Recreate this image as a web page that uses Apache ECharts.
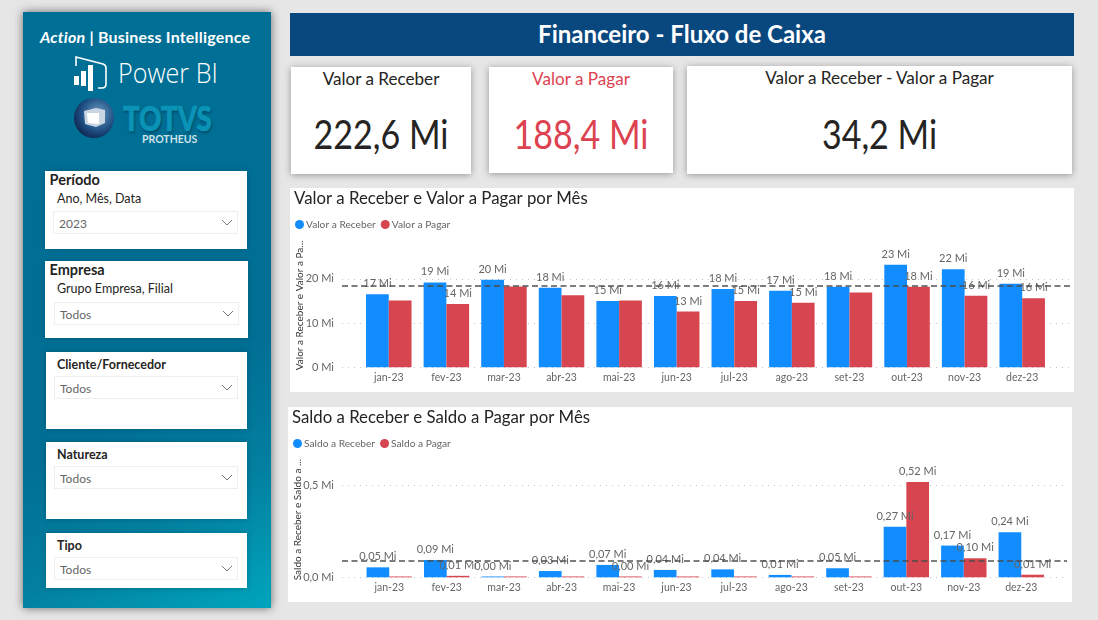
<!DOCTYPE html>
<html>
<head>
<meta charset="utf-8">
<script src="https://cdn.jsdelivr.net/npm/echarts@6/dist/echarts.min.js"></script>
<style>
html, body { margin:0; padding:0; width:1098px; height:620px; overflow:hidden; background:#e6e6e6; font-family:Lato,"Noto Sans",sans-serif; color:#252423; }
.abs { position:absolute; }
.t { position:absolute; white-space:nowrap; }
#sidebar { left:23px; top:12px; width:248px; height:596px; background:linear-gradient(152deg,#006f96 0%,#006f94 62%,#037f9f 80%,#00a5bd 100%); box-shadow:0 0 9px rgba(0,0,0,.55); }
.slicer { position:absolute; background:#fff; box-shadow:0 0 5px rgba(0,50,70,.35); }
.drop { position:absolute; border:1px solid #eee; box-sizing:border-box; height:23px; color:#666; font-size:12px; line-height:24px; padding-left:5px; }
.drop svg { position:absolute; right:4px; top:7px; }
.card { position:absolute; background:#fff; box-shadow:0 1px 7px rgba(0,0,0,.35); text-align:center; }
.card .lab { position:absolute; left:0; right:0; font-size:18px; transform:scaleX(.95); }
.card .val { position:absolute; left:0; right:0; font-size:41px; line-height:44px; transform:scaleX(.83); }
.panel { position:absolute; background:#fff; }
</style>
</head>
<body>
<div class="abs" id="sidebar"></div>
<div class="t" style="left:40px;top:27px;color:#fff;font-size:16px;font-weight:700;letter-spacing:.2px;"><i>Action</i> | Business Intelligence</div>
<svg class="abs" style="left:73px;top:54px" width="36" height="38" viewBox="0 0 36 38" fill="none">
  <path d="M3 12V3L30 10Q33 11 33 14V30Q33 34 29 34H25" stroke="#fff" stroke-width="1.6"/>
  <rect x="1" y="22" width="5" height="9" fill="#fff"/><rect x="8" y="17" width="5" height="15" fill="#fff"/><rect x="15" y="11" width="5" height="26" fill="#fff"/>
</svg>
<div class="t" style="left:118px;top:54px;color:#fff;font-size:27px;font-family:'Open Sans';font-weight:300;transform-origin:left;transform:scaleX(.93);">Power BI</div>
<svg class="abs" style="left:72px;top:96px" width="44" height="44" viewBox="0 0 44 44">
  <defs><radialGradient id="g" cx=".6" cy=".4" r=".7"><stop offset="0" stop-color="#6e9fc4"/><stop offset=".6" stop-color="#1f4f84"/><stop offset="1" stop-color="#0b1e45"/></radialGradient></defs>
  <circle cx="22" cy="22" r="20" fill="url(#g)"/>
  <path d="M12 15L24 12L33 14V27L24 31L13 28Z" fill="#c9d6e2"/><path d="M15 17L27 17V28L16 27Z" fill="#fff"/>
</svg>
<div class="t" style="left:123px;top:96px;color:#0b93b7;font-size:35px;font-weight:900;-webkit-text-stroke:.7px #0b93b7;text-shadow:1px 2px 3px rgba(0,40,60,.55);transform-origin:left;transform:scaleX(.79);">TOTVS</div>
<div class="t" style="left:142px;top:133px;color:#cfe3ea;font-size:10.5px;font-weight:700;">PROTHEUS</div>

<div class="slicer" style="left:45px;top:171px;width:202px;height:78px"></div>
<div class="t" style="left:49.5px;top:171px;font-size:14.5px;font-weight:700;">Período</div>
<div class="t" style="left:57px;top:191px;font-size:12.5px;">Ano, Mês, Data</div>
<div class="drop" style="left:53px;top:211px;width:185px;">2023<svg width="12" height="7"><path d="M1 1L6 6L11 1" stroke="#777" fill="none"/></svg></div>

<div class="slicer" style="left:45px;top:261px;width:203px;height:77px"></div>
<div class="t" style="left:49.5px;top:261px;font-size:14.5px;font-weight:700;">Empresa</div>
<div class="t" style="left:57px;top:281px;font-size:12.5px;">Grupo Empresa, Filial</div>
<div class="drop" style="left:54px;top:302px;width:185px;">Todos<svg width="12" height="7"><path d="M1 1L6 6L11 1" stroke="#777" fill="none"/></svg></div>

<div class="slicer" style="left:46px;top:352px;width:201px;height:77px"></div>
<div class="t" style="left:57px;top:357px;font-size:12.5px;font-weight:700;">Cliente/Fornecedor</div>
<div class="drop" style="left:54px;top:376px;width:184px;">Todos<svg width="12" height="7"><path d="M1 1L6 6L11 1" stroke="#777" fill="none"/></svg></div>

<div class="slicer" style="left:46px;top:442px;width:201px;height:77px"></div>
<div class="t" style="left:57px;top:447px;font-size:12.5px;font-weight:700;">Natureza</div>
<div class="drop" style="left:54px;top:466px;width:184px;">Todos<svg width="12" height="7"><path d="M1 1L6 6L11 1" stroke="#777" fill="none"/></svg></div>

<div class="slicer" style="left:46px;top:533px;width:201px;height:55px"></div>
<div class="t" style="left:57px;top:538px;font-size:12.5px;font-weight:700;">Tipo</div>
<div class="drop" style="left:54px;top:557px;width:184px;">Todos<svg width="12" height="7"><path d="M1 1L6 6L11 1" stroke="#777" fill="none"/></svg></div>

<div class="abs" style="left:290px;top:13px;width:784px;height:43px;background:#09487f;color:#fff;font-size:24px;font-weight:700;line-height:42px;text-align:center;">Financeiro - Fluxo de Caixa</div>

<div class="card" style="left:291px;top:67px;width:180px;height:107px"><div class="lab" style="top:0">Valor a Receber</div><div class="val" style="top:45px">222,6 Mi</div></div>
<div class="card" style="left:489px;top:67px;width:184px;height:106px;color:#dc4250"><div class="lab" style="top:0">Valor a Pagar</div><div class="val" style="top:45px">188,4 Mi</div></div>
<div class="card" style="left:687px;top:66px;width:385px;height:108px"><div class="lab" style="top:0">Valor a Receber - Valor a Pagar</div><div class="val" style="top:46px">34,2 Mi</div></div>

<div class="panel" id="valor" style="left:290px;top:188px;width:784px;height:204px"></div>
<div class="panel" id="saldo" style="left:288px;top:407px;width:784px;height:195px"></div>

<script>
var meses = ['jan-23','fev-23','mar-23','abr-23','mai-23','jun-23','jul-23','ago-23','set-23','out-23','nov-23','dez-23'];

var valorReceber = [16.5,19.2,19.8,18.0,15.0,16.1,17.7,17.3,18.2,23.2,22.2,18.9];
var valorPagar = [15.1,14.3,18.3,16.3,15.1,12.6,15.0,14.6,16.9,18.2,16.2,15.6];
// Power BI hides the labels that collide, these are the ones it keeps
var valorPagarRotulos = [0,1,0,0,0,1,1,1,0,1,1,1];

var saldoReceber = [0.054,0.094,0.0045,0.034,0.067,0.040,0.043,0.013,0.049,0.274,0.172,0.244];
var saldoPagar = [0.0045,0.008,0.0045,0.0045,0.0045,0.0045,0.0045,0.0045,0.0045,0.516,0.103,0.014];
var saldoPagarRotulos = [0,1,0,0,1,0,0,0,0,1,1,1];

var COR_AZUL = '#118DFF';
var COR_VERMELHO = '#D64550';

function media(valores){
    var soma = 0;
    for (var i = 0; i < valores.length; i++) soma += valores[i];
    return soma / valores.length;
}

function get_series(nome, valores, cor, rotulos, casas){
    return {
        name: nome,
        type: 'bar',
        xAxisIndex: 1,
        yAxisIndex: 1,
        barGap: 0,
        barCategoryGap: '21%',
        itemStyle: {color: cor},
        label: {
            show: true,
            position: 'top',
            distance: 5,
            color: '#666',
            fontFamily: 'Lato',
            fontSize: 11,
            formatter: function (p) { return p.value.toFixed(casas).replace('.', ',') + ' Mi'; }
        },
        data: valores.map(function (v, i) {
            return rotulos && !rotulos[i] ? {value: v, label: {show: false}} : {value: v};
        })
    };
}

function get_option(op){
    var fmtY = function (v) { return (op.casasY ? v.toFixed(op.casasY).replace('.', ',') : v) + ' Mi'; };
    return {
        animation: false,
        textStyle: {fontFamily: 'Lato'},
        title: {
            text: op.titulo,
            left: -1,
            top: -3,
            textStyle: {fontFamily: 'Lato', fontWeight: 'normal', fontSize: 16.8, color: '#252423'}
        },
        legend: {
            left: 0,
            top: 26.5,
            icon: 'circle',
            itemWidth: 9,
            itemHeight: 9,
            itemGap: 5,
            textStyle: {fontFamily: 'Lato', fontSize: 10.2, color: '#666', padding: [0, 0, 0, -3]},
            data: op.nomes
        },
        grid: [
            {left: op.gradeLeft, width: op.gradeWidth, top: op.top, height: op.height, outerBoundsMode: 'none'},
            {left: op.barrasLeft, width: op.barrasWidth, top: op.top, height: op.height, outerBoundsMode: 'none'}
        ],
        xAxis: [
            {gridIndex: 0, type: 'value', show: false, min: 0, max: 1},
            {
                gridIndex: 1,
                type: 'category',
                data: meses,
                axisLine: {show: false},
                axisTick: {show: false},
                axisLabel: {color: '#666', fontSize: 10.5, fontFamily: 'Lato', margin: 5, interval: 0}
            }
        ],
        yAxis: [
            {
                gridIndex: 0,
                type: 'value',
                min: 0,
                max: op.max,
                interval: op.interval,
                name: op.tituloY,
                nameLocation: 'middle',
                nameGap: op.nameGap,
                nameMoveOverlap: false,
                nameTextStyle: {color: '#333', fontSize: 10, fontFamily: 'Lato'},
                axisLine: {show: false},
                axisTick: {show: false},
                axisLabel: {color: '#666', fontSize: 11, fontFamily: 'Lato', margin: 8, formatter: fmtY, showMaxLabel: false},
                splitLine: {show: true, showMaxLine: false, lineStyle: {color: '#c4c4c4', type: [1, 5], width: 1}}
            },
            {gridIndex: 1, type: 'value', show: false, min: 0, max: op.max, interval: op.interval, splitLine: {show: false}}
        ],
        series: [
            get_series(op.nomes[0], op.receber, COR_AZUL, null, op.casas),
            get_series(op.nomes[1], op.pagar, COR_VERMELHO, op.rotulos, op.casas),
            {
                // average line runs the full width of the plot, past the bars
                type: 'line',
                xAxisIndex: 0,
                yAxisIndex: 0,
                symbol: 'none',
                z: 6,
                data: [[0, 0], [1, 0]],
                lineStyle: {opacity: 0},
                markLine: {
                    silent: true,
                    symbol: 'none',
                    label: {show: false},
                    lineStyle: {color: 'rgba(75,75,75,0.72)', type: [6, 3.5], width: 2.2},
                    data: [{yAxis: media(op.receber)}]
                }
            }
        ]
    };
}

function init_chart(chartId, op){
    var myChart = echarts.init(document.getElementById(chartId));
    myChart.setOption(get_option(op));
}

init_chart('valor', {
    titulo: 'Valor a Receber e Valor a Pagar por Mês',
    tituloY: 'Valor a Receber e Valor a Pa...',
    nomes: ['Valor a Receber', 'Valor a Pagar'],
    receber: valorReceber,
    pagar: valorPagar,
    rotulos: valorPagarRotulos,
    casas: 0,
    casasY: 0,
    max: 28,
    interval: 10,
    gradeLeft: 52,
    gradeWidth: 728,
    barrasLeft: 70,
    barrasWidth: 691,
    top: 55.5,
    height: 123.8,
    nameGap: 37
});

init_chart('saldo', {
    titulo: 'Saldo a Receber e Saldo a Pagar por Mês',
    tituloY: 'Saldo a Receber e Saldo a ...',
    nomes: ['Saldo a Receber', 'Saldo a Pagar'],
    receber: saldoReceber,
    pagar: saldoPagar,
    rotulos: saldoPagarRotulos,
    casas: 2,
    casasY: 1,
    max: 0.625,
    interval: 0.5,
    gradeLeft: 54,
    gradeWidth: 725,
    barrasLeft: 72.5,
    barrasWidth: 689.5,
    top: 55,
    height: 115.3,
    nameGap: 39
});
</script>
</body>
</html>
